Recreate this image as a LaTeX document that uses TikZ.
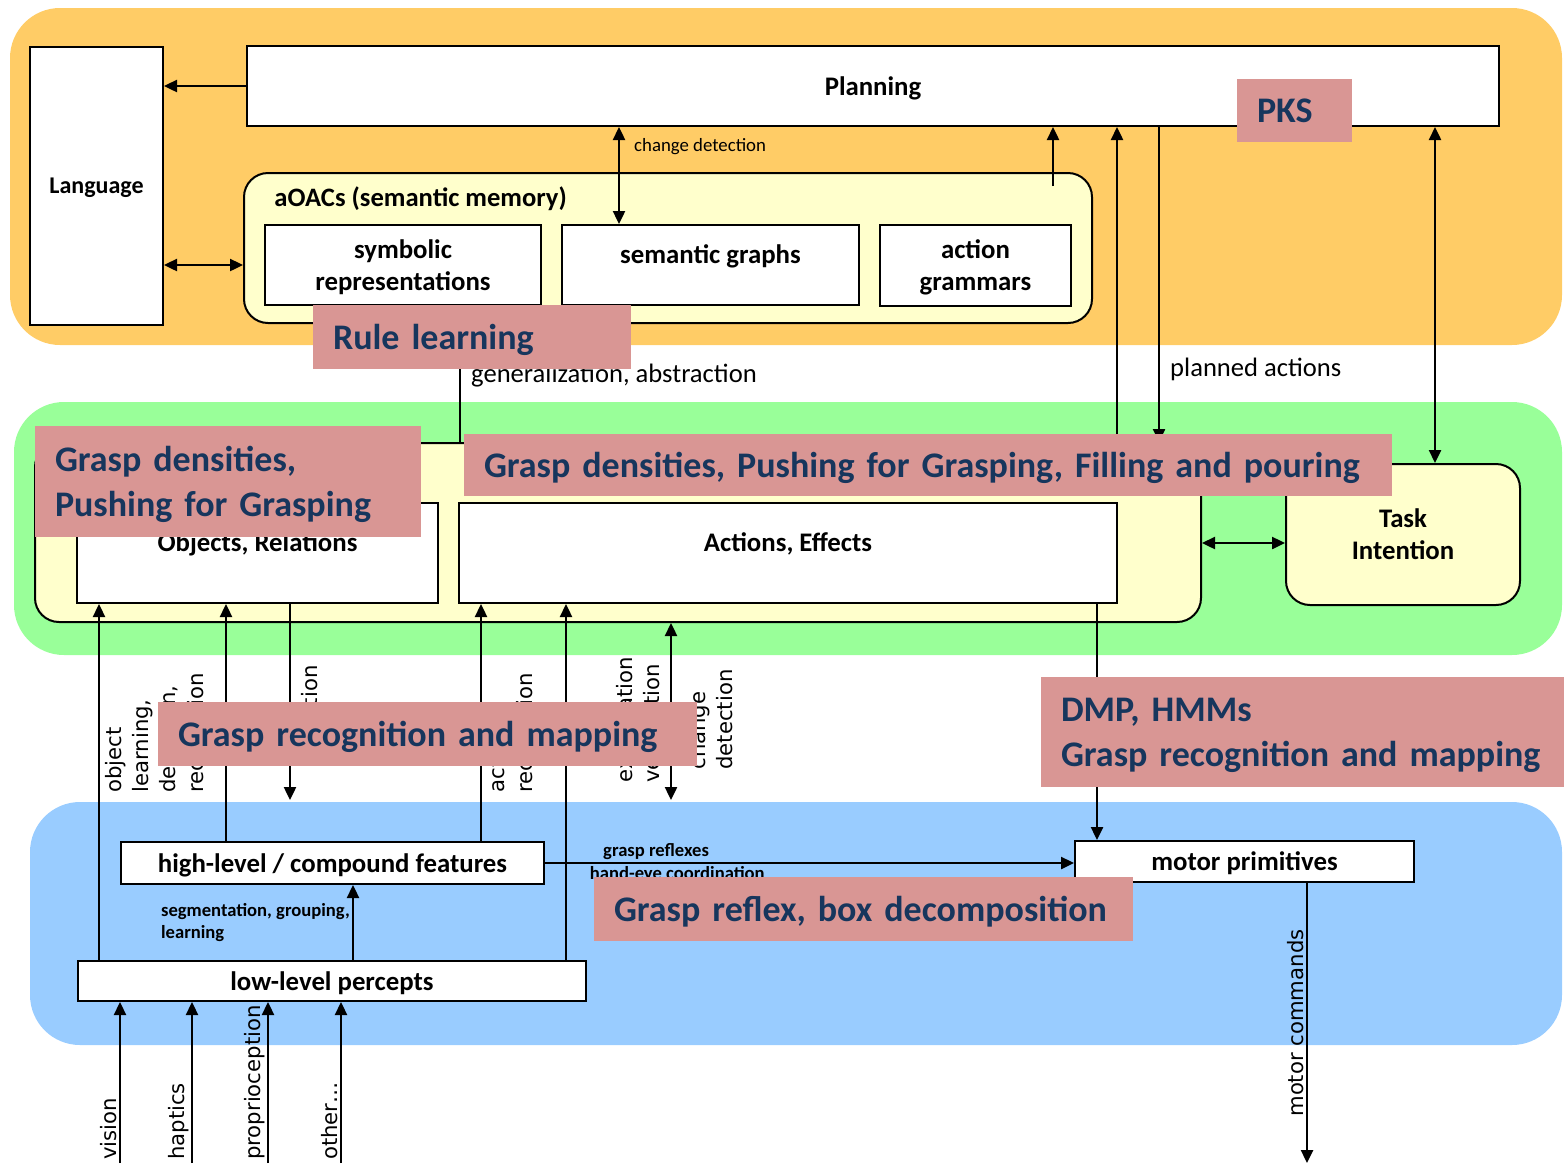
\documentclass[tikz,border=0pt]{standalone}
\usepackage{fontspec}
\setmainfont{Carlito}
\newfontfamily\rotfont{DejaVu Sans}
\usetikzlibrary{positioning}
\usetikzlibrary{arrows.meta}
\definecolor{orangefill}{RGB}{255,204,102}
\definecolor{greenfill}{RGB}{153,255,153}
\definecolor{bluefill}{RGB}{153,204,255}
\definecolor{yellowfill}{RGB}{255,255,204}
\definecolor{pinkfill}{RGB}{217,150,148}
\definecolor{navytext}{RGB}{23,54,93}
\tikzset{
  region/.style={rounded corners=25pt, inner sep=0pt},
  box/.style={draw, fill=white, line width=1pt, inner sep=0pt, text depth=0pt, align=center, font=\bfseries\fontsize{13.4}{16}\selectfont},
  roundbox/.style={draw, fill=yellowfill, line width=1pt, rounded corners=12pt, inner sep=0pt, text depth=0pt, align=center, font=\bfseries\fontsize{13.4}{16}\selectfont},
  boxlabel/.style={inner sep=0pt, font=\bfseries\fontsize{13.4}{16}\selectfont},
  pinkbox/.style={fill=pinkfill, text=navytext, inner xsep=10pt, inner ysep=0pt, align=left, font=\bfseries\fontsize{18}{22.5}\selectfont},
  pinkline/.style={pinkbox, text depth=0pt},
  pinktwo/.style={pinkbox, text depth=22.5pt},
  arr/.style={-{Triangle[length=6.5pt,width=6pt]}, line width=1.2pt},
  darr/.style={{Triangle[length=6.5pt,width=6pt]}-{Triangle[length=6.5pt,width=6pt]}, line width=1.2pt},
  rottxt/.style={rotate=90, align=left, inner sep=1pt, font=\rotfont\fontsize{10.6}{13.6}\selectfont},
  smalltxt/.style={inner sep=1pt, font=\fontsize{9.4}{11}\selectfont},
  smallbold/.style={inner sep=1pt, align=left, font=\bfseries\fontsize{9.3}{11}\selectfont},
  regtxt/.style={inner sep=1pt, font=\fontsize{13.3}{15}\selectfont}
}
\begin{document}
\begin{tikzpicture}[x=0.5pt, y=-0.5pt]
\useasboundingbox (0,0) rectangle (1564,1163);

% layers
\node[region, fill=orangefill, minimum width=776pt, minimum height=168.5pt] (plan_layer) at (786,176.5) {};
\node[region, fill=greenfill, minimum width=774pt, minimum height=126.5pt] (mid_layer) at (788,528.5) {};
\node[region, fill=bluefill, minimum width=766pt, minimum height=121.5pt] (low_layer) at (796,923.5) {};

% planning layer
\node[box, minimum width=66.5pt, minimum height=139pt, font=\bfseries\fontsize{12}{16}\selectfont] (language) at (96.5,186) {Language};
\node[box, minimum width=626pt, minimum height=40pt] (planning) at (873,86) {Planning};
\node[roundbox, minimum width=424pt, minimum height=75pt] (aoacs) at (668,248) {};
\node[boxlabel, anchor=west, font=\bfseries\fontsize{13.3}{16}\selectfont] (aoacs_title) at (274,199) {aOACs (semantic memory)};
\node[box, minimum width=138pt, minimum height=40pt] (sym_rep) at (403,265) {symbolic\\representations};
\node[box, minimum width=148.5pt, minimum height=40pt] (sem_graphs) at (710.5,265) {};
\node[boxlabel] (sem_graphs_txt) at (710.5,256) {semantic graphs};
\node[box, minimum width=95.5pt, minimum height=40.5pt] (act_gram) at (975.5,265.5) {action\\grammars};
\coordinate (aoacs_out) at (1053,186);

% OAC layer
\node[roundbox, minimum width=583pt, minimum height=89.5pt] (oac_box) at (618,532.5) {};
\node[box, minimum width=180.5pt, minimum height=50pt] (obj_rel) at (257.5,553) {};
\node[boxlabel] (obj_rel_txt) at (257.5,544) {Objects, Relations};
\node[box, minimum width=329pt, minimum height=50pt] (act_eff) at (788,553) {};
\node[boxlabel] (act_eff_txt) at (788,544) {Actions, Effects};
\node[roundbox, minimum width=117pt, minimum height=70.5pt] (task_int) at (1403,534.5) {Task\\Intention};

% sensorimotor layer
\node[box, minimum width=211.5pt, minimum height=21pt] (high_feat) at (332.5,863) {high-level / compound features};
\node[box, minimum width=254pt, minimum height=20pt] (low_perc) at (332,981) {low-level percepts};
\node[box, minimum width=169.5pt, minimum height=20.5pt] (motor_prim) at (1244.5,861.5) {motor primitives};
\coordinate (attn_end) at (290,800);
\coordinate (change_end) at (671,800);
\coordinate (vision_in) at (120,1163);
\coordinate (haptics_in) at (192,1163);
\coordinate (proprio_in) at (268,1163);
\coordinate (other_in) at (341,1163);
\coordinate (motor_out) at (1307,1163);

% connectors in the planning layer
\draw[arr] (planning.west) -- (language.east |- planning.west);
\draw[darr] (language.east |- sym_rep.west) -- (aoacs.west |- sym_rep.west);
\draw[darr] (planning.south -| 619,0) -- node[smalltxt, pos=0.2, right=6pt] (change_lbl) {change detection} (sem_graphs.north -| 619,0);
\draw[arr] (aoacs_out) -- (planning.south -| aoacs_out);
\draw[arr] (oac_box.north -| 1117,0) -- (planning.south -| 1117,0);
\draw[arr] (planning.south -| 1159,0) -- node[regtxt, pos=0.77, right=4pt] (planned_lbl) {planned actions} (oac_box.north -| 1159,0);
\draw[darr] (planning.south -| 1435,0) -- (task_int.north -| 1435,0);
\draw[arr] (oac_box.north -| 460,0) -- node[regtxt, pos=0.56, right=4pt] (gen_lbl) {generalization, abstraction} (aoacs.south -| 460,0);
\draw[darr] (oac_box.east |- 0,543) -- (task_int.west |- 0,543);

% connectors between OAC and sensorimotor layer
\draw[arr] (low_perc.north -| 99,0) -- (obj_rel.south -| 99,0);
\draw[arr] (high_feat.north -| 226,0) -- (obj_rel.south -| 226,0);
\draw[arr] (obj_rel.south -| attn_end) -- (attn_end);
\draw[arr] (high_feat.north -| 481,0) -- (act_eff.south -| 481,0);
\draw[arr] (low_perc.north -| 566,0) -- (act_eff.south -| 566,0);
\draw[darr] (oac_box.south -| change_end) -- (change_end);
\draw[arr] (act_eff.south -| 1097,0) -- (motor_prim.north -| 1097,0);
\node[rottxt, anchor=south west] (obj_learn_txt) at (210,795) {object\\learning,\\detection,\\recognition};
\node[rottxt, anchor=east] (attn_txt) at (310,663) {attention};
\node[rottxt, anchor=south west] (act_rec_txt) at (539,795) {action\\recognition};
\node[rottxt, anchor=south west] (exp_ver_txt) at (662,785) {expectation\\verification};
\node[rottxt, anchor=south west] (change_txt) at (735,772) {change\\detection};

% connectors in the sensorimotor layer
\draw[arr] (high_feat.east) -- node[smallbold, pos=0.21, above] (reflex_lbl) {grasp reflexes} node[smallbold, pos=0.25, below] (handeye_lbl) {hand-eye coordination} (motor_prim.west |- high_feat.east);
\draw[arr] (low_perc.north -| 353,0) -- node[smallbold, midway, left] (seg_lbl) {segmentation, grouping,\\learning} (high_feat.south -| 353,0);
\draw[arr] (vision_in) -- node[rottxt, pos=0, anchor=south west] (vision_txt) {vision} (low_perc.south -| vision_in);
\draw[arr] (haptics_in) -- node[rottxt, pos=0, anchor=south west] (haptics_txt) {haptics} (low_perc.south -| haptics_in);
\draw[arr] (proprio_in) -- node[rottxt, pos=0, anchor=south west] (proprio_txt) {proprioception} (low_perc.south -| proprio_in);
\draw[arr] (other_in) -- node[rottxt, pos=0, anchor=south west] (other_txt) {other\dots} (low_perc.south -| other_in);
\draw[arr] (motor_prim.south -| motor_out) -- node[rottxt, midway, anchor=south] (motor_cmd_txt) {motor commands} (motor_out);

% project annotations
\node[pinkline, text width=139pt, minimum height=32pt] (rule_pink) at (472,337) {Rule learning};
\node[pinkline, text width=37.5pt, minimum height=31.5pt] (pks_pink) at (1294.5,110.5) {PKS};
\node[pinktwo, text width=173pt, minimum height=55.5pt] (gd_obj_pink) at (228,481.5) {Grasp densities,\\Pushing for Grasping};
\node[pinkline, text width=444pt, minimum height=31pt] (gd_act_pink) at (928,465) {Grasp densities, Pushing for Grasping, Filling and pouring};
\node[pinkline, text width=249.5pt, minimum height=32pt] (grm_pink) at (427.5,734) {Grasp recognition and mapping};
\node[pinktwo, text width=241.5pt, minimum height=55pt] (dmp_pink) at (1302.5,732) {DMP, HMMs\\Grasp recognition and mapping};
\node[pinkline, text width=249.5pt, minimum height=32pt] (grb_pink) at (863.5,909) {Grasp reflex, box decomposition};
\end{tikzpicture}
\end{document}
